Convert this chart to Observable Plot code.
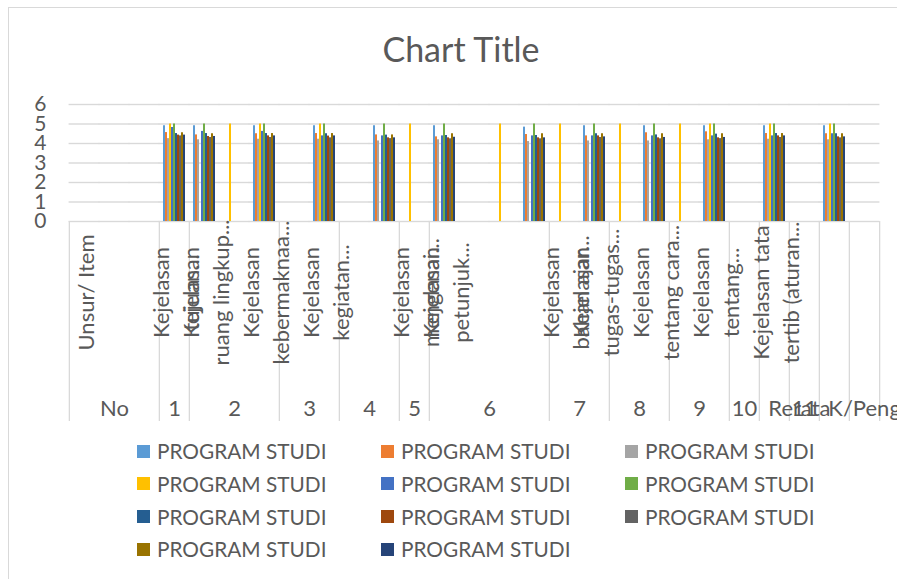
<!DOCTYPE html>
<html>
<head>
<meta charset="utf-8">
<script src="https://cdn.jsdelivr.net/npm/d3@7"></script>
<script src="https://cdn.jsdelivr.net/npm/@observablehq/plot@0.6"></script>
<style>
html, body { margin: 0; padding: 0; background: #fff; overflow: hidden; }
#chart { position: relative; width: 897px; height: 579px; font-family: Lato, "Open Sans", sans-serif; color: #595959; overflow: hidden; }
#border { position: absolute; left: 8px; top: 7px; width: 1000px; height: 1000px; border: 1px solid #d9d9d9; box-sizing: border-box; }
#title { position: absolute; left: 0; width: 922px; top: 32px; text-align: center; font-size: 34px; line-height: 34px; white-space: nowrap; }
#plot { position: absolute; left: 0; top: 0; }
#plot svg { overflow: visible; }
.item { position: absolute; display: flex; align-items: center; height: 22px; font-size: 20.8px; line-height: 22px; white-space: nowrap; }
.sw { width: 13px; height: 13px; margin-right: 7px; flex: none; }
</style>
</head>
<body>
<div id="chart">
  <div id="border"></div>
  <div id="title">Chart Title</div>
  <div id="plot"></div>
  <div id="legend"></div>
</div>
<script>
// ---------- data ----------
const titleText = "Chart Title";
// inner category level (27 categories), "\n" separates wrapped lines
const itemLabels = [
  "Unsur/ Item", "", "",
  "Kejelasan\ntujuan...",
  "Kejelasan\nruang lingkup...", "", "Kejelasan\nkebermaknaa...",
  "", "Kejelasan\nkegiatan...",
  "", "",
  "Kejelasan\nmengenai...",
  "Kejelasan\npetunjuk...", "", "", "",
  "Kejelasan\nbahan ajar...", "Kejelasan\ntugas-tugas...",
  "", "Kejelasan\ntentang cara...",
  "", "Kejelasan\ntentang...",
  "",
  "Kejelasan tata\ntertib (aturan...",
  "", "", ""
];
// outer category level
const groupLabels = ["No", "1", "2", "3", "4", "5", "6", "7", "8", "9", "10", "Rerata", "11", "K/Pengd", ""];
const groupSizes  = [3, 1, 3, 2, 2, 1, 4, 2, 2, 2, 1, 1, 1, 1, 1];

const seriesNames = ["PROGRAM STUDI", "PROGRAM STUDI", "PROGRAM STUDI", "PROGRAM STUDI", "PROGRAM STUDI", "PROGRAM STUDI",
                     "PROGRAM STUDI", "PROGRAM STUDI", "PROGRAM STUDI", "PROGRAM STUDI", "PROGRAM STUDI"];
const seriesColors = ["#5B9BD5", "#ED7D31", "#A5A5A5", "#FFC000", "#4472C4", "#70AD47",
                      "#255E91", "#9E480E", "#636363", "#997300", "#264478"];

const s1  = [null,null,null,4.91,4.91,null,4.91,null,4.91,null,4.91,null,4.91,null,null,4.84,null,4.91,null,4.91,null,4.91,null,4.91,null,4.91,null];
const s2  = [null,null,null,4.56,4.44,null,4.50,null,4.51,null,4.44,null,4.34,null,null,4.46,null,4.39,null,4.55,null,4.60,null,4.51,null,4.50,null];
const s3  = [null,null,null,4.25,4.19,null,4.22,null,4.22,null,4.13,null,4.19,null,null,4.10,null,4.13,null,4.13,null,4.19,null,4.22,null,4.19,null];
const s4  = [null,null,null,5,null,5,5,null,5,null,null,5,null,null,5,null,5,null,5,null,5,5,null,5,null,5,null];
const s5  = [null,null,null,4.82,4.62,null,4.62,null,4.39,null,4.39,null,4.39,null,null,4.39,null,4.39,null,4.39,null,4.39,null,4.39,null,4.50,null];
const s6  = [null,null,null,5,5,null,5,null,5,null,5,null,5,null,null,5,null,5,null,5,null,5,null,5,null,5,null];
const s7  = [null,null,null,4.51,4.51,null,4.51,null,4.50,null,4.43,null,4.41,null,null,4.41,null,4.50,null,4.44,null,4.48,null,4.51,null,4.50,null];
const s8  = [null,null,null,4.43,4.36,null,4.39,null,4.38,null,4.29,null,4.29,null,null,4.29,null,4.39,null,4.29,null,4.29,null,4.39,null,4.34,null];
const s9  = [null,null,null,4.39,4.31,null,4.31,null,4.29,null,4.25,null,4.24,null,null,4.24,null,4.31,null,4.24,null,4.25,null,4.31,null,4.29,null];
const s10 = [null,null,null,4.55,4.50,null,4.51,null,4.51,null,4.44,null,4.50,null,null,4.50,null,4.50,null,4.50,null,4.50,null,4.51,null,4.50,null];
const s11 = [null,null,null,4.43,4.36,null,4.39,null,4.39,null,4.29,null,4.32,null,null,4.29,null,4.34,null,4.31,null,4.31,null,4.39,null,4.34,null];

const yTicks = [0, 1, 2, 3, 4, 5, 6];

// ---------- build tables ----------
const seriesValues = [s1, s2, s3, s4, s5, s6, s7, s8, s9, s10, s11];
const seriesKeys = seriesValues.map((_, i) => "S" + (i + 1));
const itemKeys = itemLabels.map((_, i) => i);

const rows = [];
seriesValues.forEach((vals, s) => vals.forEach((v, i) => {
  if (v != null) rows.push({cat: itemKeys[i], series: seriesKeys[s], value: v});
}));
const gridRows = [];
itemKeys.forEach(k => yTicks.forEach(t => gridRows.push({cat: k, tick: t})));

let acc = 0;
const groups = groupLabels.map((label, g) => {
  const d = {label, start: acc, size: groupSizes[g]};
  acc += groupSizes[g];
  return d;
});
const items = itemLabels.map((label, i) => ({label, key: itemKeys[i]})).filter(d => d.label);

// ---------- layout ----------
const W = 897, H = 430, ML = 65, MR = 14, MT = 104, MB = 209;
const padIn = 0.14, padOut = 0.07;
const fxProbe = Plot.scale({x: {type: "band", domain: itemKeys, range: [ML, W - MR], paddingInner: padIn, paddingOuter: padOut}});
const step = fxProbe.step ?? (W - ML - MR) / (itemKeys.length - padIn + 2 * padOut);
const bw = fxProbe.bandwidth ?? step * (1 - padIn);
const halfGap = (step - bw) / 2;
const firstLeft = fxProbe.apply ? fxProbe.apply(itemKeys[0]) : ML + padOut * step;
const frameH = H - MT - MB;
const fontInner = 22;
const textColor = "#595959";
const lineColor = "#d9d9d9";

const fits = d => d.label.length <= 2 * d.size + 1;
const oddGroups = groups.filter(d => d.label && fits(d) && d.size % 2 === 1);
const evenGroups = groups.filter(d => d.label && fits(d) && d.size % 2 === 0);
const longGroups = groups.filter(d => d.label && !fits(d));
const lastGroup = groups[groups.length - 1];

const plot = Plot.plot({
  width: W, height: H,
  marginLeft: ML, marginRight: MR, marginTop: MT, marginBottom: MB,
  style: {fontFamily: "Lato, 'Open Sans', sans-serif", fontSize: "21px", color: textColor, background: "transparent", overflow: "visible"},
  fx: {domain: itemKeys, paddingInner: padIn, paddingOuter: padOut, axis: null, label: null},
  x: {domain: seriesKeys, padding: 0, axis: null},
  y: {domain: [0, 6], axis: null},
  color: {domain: seriesKeys, range: seriesColors},
  marks: [
    // gridlines in every category, stretched over the gaps so they read as continuous
    Plot.ruleY(gridRows, {fx: "cat", y: "tick", stroke: lineColor, strokeWidth: 1.4, insetLeft: -halfGap - 0.3, insetRight: -halfGap - 0.3}),
    Plot.barY(rows, {fx: "cat", x: "series", y: "value", fill: "series"}),
    // y tick labels, drawn once beside the first category
    Plot.text(yTicks, {fx: () => itemKeys[0], y: d => d, text: d => String(d), frameAnchor: "left",
      dx: (ML - 23) - firstLeft, textAnchor: "end", fontSize: 21, fill: textColor}),
    Plot.ruleX(groups, {fx: d => itemKeys[d.start], x: null, dx: -step / 2, stroke: lineColor, strokeWidth: 1.3, insetTop: frameH, insetBottom: -200}),
    Plot.ruleX([lastGroup], {fx: d => itemKeys[d.start + d.size - 1], x: null, dx: step / 2, stroke: lineColor, strokeWidth: 1.3, insetTop: frameH, insetBottom: -200}),
    Plot.text(items, {fx: "key", text: "label", frameAnchor: "bottom", dy: 71, rotate: -90,
      textAnchor: "middle", lineAnchor: "middle", lineHeight: 30 / fontInner, fontSize: fontInner, fill: textColor}),
    Plot.text(oddGroups, {fx: d => itemKeys[d.start + (d.size - 1) / 2], text: "label", frameAnchor: "bottom", dy: 187,
      textAnchor: "middle", lineAnchor: "middle", fontSize: 22, fill: textColor}),
    Plot.text(evenGroups, {fx: d => itemKeys[d.start + d.size / 2 - 1], text: "label", frameAnchor: "bottom", dy: 187, dx: step / 2,
      textAnchor: "middle", lineAnchor: "middle", fontSize: 22, fill: textColor}),
    Plot.text(longGroups, {fx: d => itemKeys[d.start], text: "label", frameAnchor: "bottom", dy: 187, dx: -step / 2 + 9,
      textAnchor: "start", lineAnchor: "middle", fontSize: 22, fill: textColor})
  ]
});
document.getElementById("plot").appendChild(plot);
document.getElementById("title").textContent = titleText;

// ---------- legend ----------
const legend = document.getElementById("legend");
seriesNames.forEach((name, i) => {
  const col = i % 3, row = Math.floor(i / 3);
  const el = document.createElement("div");
  el.className = "item";
  el.style.left = (137 + col * 244) + "px";
  el.style.top = (440 + row * 32.8) + "px";
  const sw = document.createElement("span");
  sw.className = "sw";
  sw.style.background = seriesColors[i];
  const tx = document.createElement("span");
  tx.textContent = name;
  el.appendChild(sw);
  el.appendChild(tx);
  legend.appendChild(el);
});
</script>
</body>
</html>
